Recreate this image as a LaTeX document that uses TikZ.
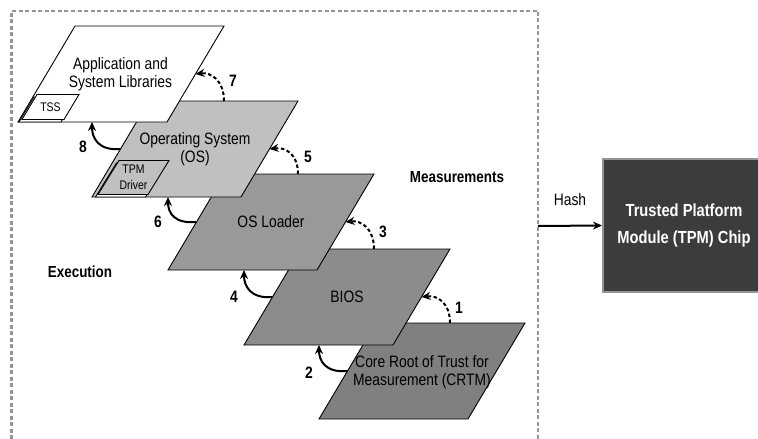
\documentclass[tikz,border=0pt]{standalone}
\usepackage{fontspec}
\setmainfont[FakeStretch=0.84]{Liberation Sans}
\usetikzlibrary{arrows.meta}

\definecolor{osgray}{HTML}{C0C0C0}
\definecolor{loadergray}{HTML}{999999}
\definecolor{biosgray}{HTML}{8C8C8C}
\definecolor{crtmgray}{HTML}{808080}
\definecolor{chipgray}{HTML}{3C3C3C}
\definecolor{framegray}{HTML}{959595}

\begin{document}
\begin{tikzpicture}[x=1pt, y=-1pt,
            line join=miter,
            sheet/.style={draw=black, line width=0.9pt},
            lbl/.style={font=\fontsize{16.5}{18.5}\selectfont, align=center, inner sep=0pt},
            small/.style={font=\fontsize{12.5}{16}\selectfont, align=center, inner sep=0pt},
            num/.style={font=\bfseries\fontsize{16.5}{18}\selectfont, inner sep=0pt},
            meas/.style={line width=2pt, dash pattern=on 3.5pt off 2.5pt, -{Stealth[length=9pt,width=8pt]}},
            exec/.style={line width=2pt, -{Stealth[length=9pt,width=8pt]}},
            frame/.style={draw=framegray, line width=2.2pt, dash pattern=on 4pt off 2.5pt},
            chip/.style={draw=framegray, fill=chipgray, line width=2pt, text=white,
                font=\bfseries\fontsize{17.5}{27}\selectfont, align=center,
                minimum width=162pt, minimum height=133pt}
        ]
            \useasboundingbox (0,0) rectangle (758,439);
            \clip (0,0) rectangle (758,439);

            % layers - lowest first, so each upper one hides the one below
            \filldraw[sheet, fill=crtmgray] (319,419) -- (468,419) -- (525,323) -- (376,323) -- cycle;
            \filldraw[sheet, fill=biosgray] (244,345) -- (393,345) -- (450,249) -- (301,249) -- cycle;
            \filldraw[sheet, fill=loadergray] (168,270) -- (317,270) -- (374,174) -- (225,174) -- cycle;
            \filldraw[sheet, fill=osgray] (92,197) -- (241,197) -- (298,101) -- (149,101) -- cycle;
            \filldraw[sheet, fill=white] (18,122) -- (167,122) -- (224,26) -- (75,26) -- cycle;

            % small boxes with their shadow
            \filldraw[sheet, fill=white] (19,122) -- (61,122) -- (76,97) -- (34,97) -- cycle;
            \filldraw[sheet, fill=white] (22,119.5) -- (64,119.5) -- (79,94.5) -- (37,94.5) -- cycle;
            \filldraw[sheet, fill=white] (95.5,197) -- (145.5,197) -- (166.5,163) -- (116.5,163) -- cycle;
            \filldraw[sheet, fill=osgray] (98,194.5) -- (148,194.5) -- (169,160.5) -- (119,160.5) -- cycle;

            \node[lbl] (app) at (120.5,74) {Application and\\System Libraries};
            \node[small] (tss) at (50.5,107) {TSS};
            \node[lbl] (os) at (195,149) {Operating System\\(OS)};
            \node[small] (drv) at (133.5,177.5) {TPM\\Driver};
            \node[lbl] (loader) at (271,222) {OS Loader};
            \node[lbl] (bios) at (347,297) {BIOS};
            \node[lbl] (crtm) at (422,372) {Core Root of Trust for\\Measurement (CRTM)};

            % edge points
            \coordinate (crtm-l) at (347.5,371);
            \coordinate (crtm-t) at (450,323);
            \coordinate (bios-b) at (319,345);
            \coordinate (bios-r) at (421.5,297);
            \coordinate (bios-l) at (272.5,297);
            \coordinate (bios-t) at (374,249);
            \coordinate (loader-b) at (244,270);
            \coordinate (loader-r) at (345.5,222);
            \coordinate (loader-l) at (196.5,222);
            \coordinate (loader-t) at (298,174);
            \coordinate (os-b) at (168,197);
            \coordinate (os-r) at (269.5,149);
            \coordinate (os-l) at (120.5,149);
            \coordinate (os-t) at (224,101);
            \coordinate (app-b) at (92,122);
            \coordinate (app-r) at (195.5,74);

            % measurements
            \draw[meas] (crtm-t) .. controls +(0,-20) and +(16,-2) .. (bios-r);
            \draw[meas] (bios-t) .. controls +(0,-20) and +(16,-2) .. (loader-r);
            \draw[meas] (loader-t) .. controls +(0,-20) and +(16,-2) .. (os-r);
            \draw[meas] (os-t) .. controls +(0,-20) and +(16,-2) .. (app-r);

            % execution
            \draw[exec] (crtm-l) .. controls +(-22,2) and +(0,16) .. (bios-b);
            \draw[exec] (bios-l) .. controls +(-22,2) and +(0,16) .. (loader-b);
            \draw[exec] (loader-l) .. controls +(-22,2) and +(0,16) .. (os-b);
            \draw[exec] (os-l) .. controls +(-22,2) and +(0,16) .. (app-b);

            \node[num] (n1) at (459,308) {1};
            \node[num] (n2) at (309,373) {2};
            \node[num] (n3) at (383,232) {3};
            \node[num] (n4) at (234,297) {4};
            \node[num] (n5) at (308,157) {5};
            \node[num] (n6) at (158,222) {6};
            \node[num] (n7) at (233,81) {7};
            \node[num] (n8) at (83,147) {8};

            \node[lbl, font=\bfseries\fontsize{16}{18}\selectfont] (measurements) at (457,177) {Measurements};
            \node[lbl, font=\bfseries\fontsize{16}{18}\selectfont] (execution) at (80,272) {Execution};

            % platform frame, open at the bottom
            \draw[frame] (11.5,439) -- (11.5,11) -- (538,11) -- (538,439);

            \node[chip] (tpm) at (684,225.5) {Trusted Platform\\Module (TPM) Chip};
            \coordinate (hash-out) at (538,226);
            \draw[exec] (hash-out) -- (tpm.west);
            \node[lbl] (hash) at (570,200) {Hash};
        \end{tikzpicture}
\end{document}
